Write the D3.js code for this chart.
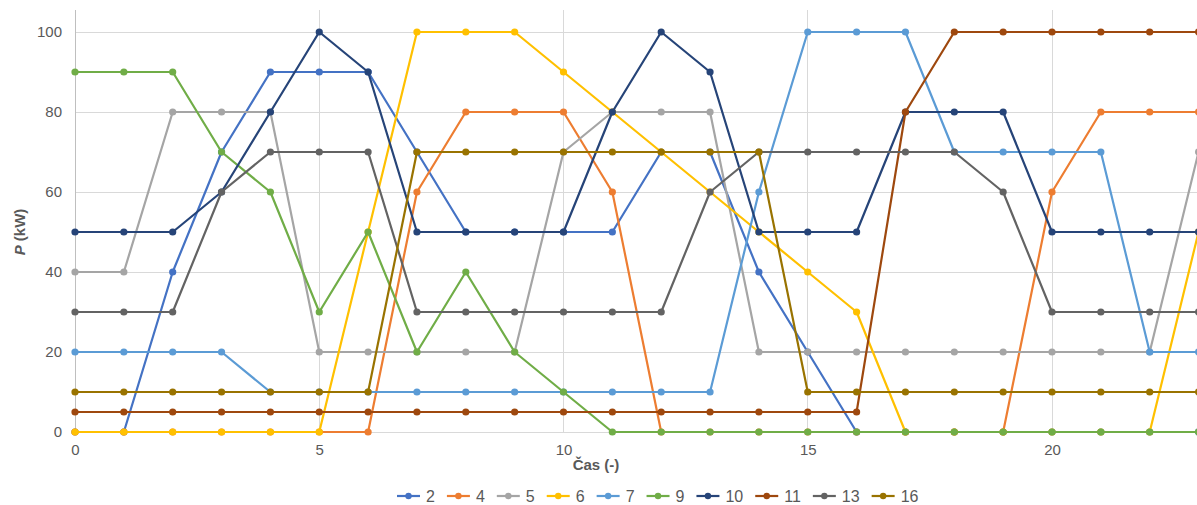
<!DOCTYPE html>
<html><head><meta charset="utf-8">
<script src="https://cdn.jsdelivr.net/npm/d3@7"></script>
<style>html,body{margin:0;padding:0;background:#fff;overflow:hidden}svg{display:block;font-family:"Liberation Sans",Arial,sans-serif}</style>
</head><body>
<svg id="c" width="1197" height="505"></svg>
<script>
const xValues = d3.range(0, 24);
const seriesNames = ["2","4","5","6","7","9","10","11","13","16"];
const colors = ["#4472C4","#ED7D31","#A5A5A5","#FFC000","#5B9BD5","#70AD47","#264478","#9E480E","#636363","#997300"];
const s2  = [0,0,40,70,90,90,90,70,50,50,50,50,70,70,40,20,0,0,0,0,0,0,0,0];
const s4  = [0,0,0,0,0,0,0,60,80,80,80,60,0,0,0,0,0,0,0,0,60,80,80,80];
const s5  = [40,40,80,80,80,20,20,20,20,20,70,80,80,80,20,20,20,20,20,20,20,20,20,70];
const s6  = [0,0,0,0,0,0,50,100,100,100,90,80,70,60,50,40,30,0,0,0,0,0,0,50];
const s7  = [20,20,20,20,10,10,10,10,10,10,10,10,10,10,60,100,100,100,70,70,70,70,20,20];
const s9  = [90,90,90,70,60,30,50,20,40,20,10,0,0,0,0,0,0,0,0,0,0,0,0,0];
const s10 = [50,50,50,60,80,100,90,50,50,50,50,80,100,90,50,50,50,80,80,80,50,50,50,50];
const s11 = [5,5,5,5,5,5,5,5,5,5,5,5,5,5,5,5,5,80,100,100,100,100,100,100];
const s13 = [30,30,30,60,70,70,70,30,30,30,30,30,30,60,70,70,70,70,70,60,30,30,30,30];
const s16 = [10,10,10,10,10,10,10,70,70,70,70,70,70,70,70,10,10,10,10,10,10,10,10,10];
const seriesValues = [s2,s4,s5,s6,s7,s9,s10,s11,s13,s16];
const yTicks = [0,20,40,60,80,100];
const xTicks = [0,5,10,15,20];

const svg = d3.select("#c");
const x = d3.scaleLinear().domain([0,25]).range([75, 75 + 25*48.85]);
const y = d3.scaleLinear().domain([0,100]).range([432, 32]);
const plotTop = 10;

const grid = svg.append("g");
grid.selectAll(".hg").data(yTicks).join("line")
  .attr("x1", x(0)).attr("x2", 1197).attr("y1", d=>y(d)).attr("y2", d=>y(d))
  .attr("stroke", "#d9d9d9").attr("stroke-width", 1).attr("shape-rendering","crispEdges");
grid.selectAll(".vg").data(xTicks).join("line")
  .attr("x1", d=>x(d)).attr("x2", d=>x(d)).attr("y1", plotTop).attr("y2", y(0))
  .attr("stroke", d => d===0 ? "#bfbfbf" : "#d9d9d9").attr("stroke-width", 1).attr("shape-rendering","crispEdges");

// axes
const yAxis = d3.axisLeft(y).tickValues(yTicks).tickSize(0).tickPadding(13);
const gy = svg.append("g").attr("transform", `translate(${x(0)},0)`).call(yAxis);
gy.select(".domain").remove();
gy.selectAll("text").attr("fill","#595959").style("font-size","15px").style("font-family","'Liberation Sans',Arial,sans-serif");

const xAxis = d3.axisBottom(x).tickValues(xTicks).tickSize(0).tickPadding(12);
const gx = svg.append("g").attr("transform", `translate(0,${y(0)})`).call(xAxis);
gx.select(".domain").remove();
gx.selectAll("text").attr("fill","#595959").style("font-size","15px").style("font-family","'Liberation Sans',Arial,sans-serif");

// titles
svg.append("text").attr("x", 596).attr("y", 470).attr("text-anchor","middle")
  .attr("fill","#595959").style("font-size","15px").style("font-weight","bold").text("Čas (-)");
const yt = svg.append("text").attr("transform","translate(25,232) rotate(-90)").attr("text-anchor","middle")
  .attr("fill","#595959").style("font-size","15px").style("font-weight","bold");
yt.append("tspan").style("font-style","italic").text("P");
yt.append("tspan").text(" (kW)");

// series
const line = d3.line().x((d,i)=>x(xValues[i])).y(d=>y(d));
seriesValues.forEach((vals, si) => {
  const g = svg.append("g");
  g.append("path").datum(vals).attr("d", line).attr("fill","none")
    .attr("stroke", colors[si]).attr("stroke-width", 2.2).attr("stroke-linejoin","round");
  g.selectAll("circle").data(vals).join("circle")
    .attr("cx", (d,i)=>x(xValues[i])).attr("cy", d=>y(d)).attr("r", 3.6).attr("fill", colors[si]);
});

// legend
const leg = svg.append("g");
let lx = 397;
seriesNames.forEach((name, i) => {
  const g = leg.append("g").attr("transform", `translate(${lx},496)`);
  g.append("line").attr("x1",0).attr("x2",23).attr("y1",0).attr("y2",0).attr("stroke",colors[i]).attr("stroke-width",2.2);
  g.append("circle").attr("cx",11.5).attr("cy",0).attr("r",3.2).attr("fill",colors[i]);
  const t = g.append("text").attr("x",29).attr("y",6).attr("fill","#595959").style("font-size","16px").text(name);
  const w = t.node().getComputedTextLength();
  lx += 29 + w + 12;
});
</script>
</body></html>
